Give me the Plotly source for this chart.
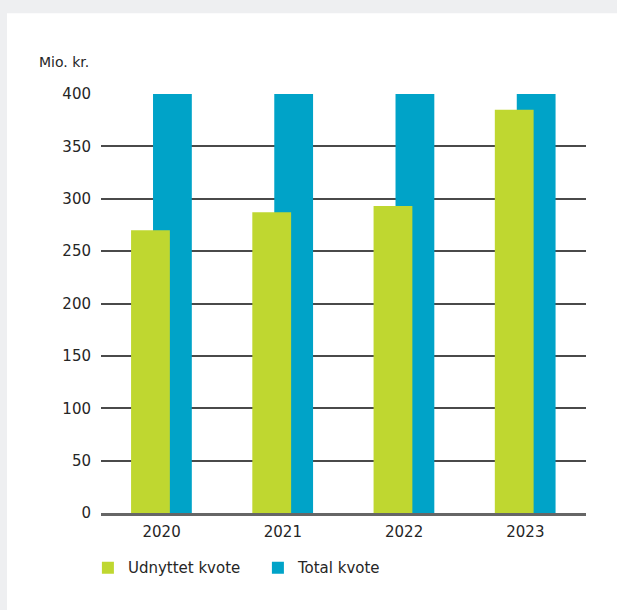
import plotly.graph_objects as go

years = ["2020", "2021", "2022", "2023"]
udnyttet = [270, 287, 293, 385]
total = [400, 400, 400, 400]
y_ticks = [0, 50, 100, 150, 200, 250, 300, 350, 400]

GREEN = "#bfd730"
BLUE = "#00a3c8"
TXT = "#262626"
FONT = "DejaVu Sans"

fig = go.Figure()
fig.add_trace(go.Bar(
    x=years, y=total, name="Total kvote", marker_color=BLUE,
    width=0.32, offset=-0.071, marker_line_width=0,
))
fig.add_trace(go.Bar(
    x=years, y=udnyttet, name="Udnyttet kvote", marker_color=GREEN,
    width=0.32, offset=-0.252, marker_line_width=0,
))

fig.update_layout(
    width=617, height=610,
    margin=dict(l=101, r=31, t=94, b=97),
    paper_bgcolor="#eeeff1",
    plot_bgcolor="rgba(0,0,0,0)",
    barmode="overlay",
    font=dict(family=FONT, size=15, color=TXT),
    showlegend=True,
    legend=dict(
        orientation="h", x=-0.027, xanchor="left", y=-0.131, yanchor="middle",
        traceorder="reversed", font=dict(size=15, color=TXT),
        entrywidth=125, entrywidthmode="pixels", bgcolor="rgba(0,0,0,0)",
    ),
    xaxis=dict(
        type="category", showgrid=False, showline=True, linecolor="#666666",
        linewidth=2.5, ticks="", tickfont=dict(size=15, color=TXT),
        ticklabelstandoff=3,
    ),
    yaxis=dict(
        range=[0, 400], tickvals=y_ticks, showgrid=True, gridcolor="#4a4a4a",
        gridwidth=1.5, zeroline=False, showline=False, ticks="",
        tickfont=dict(size=15, color=TXT), ticklabelstandoff=9,
        layer="below traces",
    ),
    shapes=[dict(
        type="rect", xref="paper", yref="paper",
        x0=-0.1938, x1=1.07, y0=-0.235, y1=1.193,
        fillcolor="white", line_width=0, layer="below",
    )],
    annotations=[dict(
        text="Mio. kr.", xref="paper", yref="paper", x=-0.131, y=1.076,
        xanchor="left", yanchor="middle", showarrow=False,
        font=dict(size=14, color=TXT, family=FONT),
    )],
)

fig.write_html(
    "out.html",
    config={"displayModeBar": False},
    post_script="document.body.style.margin='0';",
)
